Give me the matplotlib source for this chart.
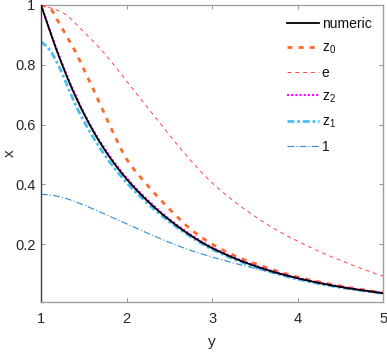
import numpy as np
import matplotlib
matplotlib.use("Agg")
import matplotlib.pyplot as plt

plt.rcParams['font.family'] = ['Liberation Sans', 'DejaVu Sans']
plt.rcParams['mathtext.fontset'] = 'custom'
plt.rcParams['mathtext.rm'] = 'Liberation Sans'
plt.rcParams['mathtext.it'] = 'Liberation Sans'

# data
y_num = [1, 1.2, 1.4, 1.6, 1.8, 2, 2.25, 2.5, 2.75, 3, 3.5, 4, 4.5, 5]
numeric = [1, 0.835, 0.696, 0.583, 0.492, 0.418, 0.343, 0.281, 0.229, 0.187, 0.127, 0.086, 0.057, 0.036]
z2 = [1, 0.839, 0.700, 0.587, 0.496, 0.422, 0.347, 0.284, 0.232, 0.189, 0.129, 0.087, 0.058, 0.036]

y_z1 = [1, 1.1, 1.2, 1.3, 1.4, 1.6, 1.8, 2, 2.25, 2.5, 2.75, 3, 3.5, 4, 4.5, 5]
z1 = [0.878, 0.85, 0.80, 0.735, 0.668, 0.562, 0.476, 0.406, 0.335, 0.275, 0.225, 0.183, 0.124, 0.083, 0.055, 0.035]

y_z0 = [1, 1.1, 1.2, 1.3, 1.4, 1.5, 1.6, 1.8, 2, 2.25, 2.5, 2.75, 3, 3.25, 3.5, 4, 4.5, 5]
z0 = [1, 0.99, 0.945, 0.895, 0.845, 0.785, 0.725, 0.60, 0.485, 0.395, 0.318, 0.25, 0.2, 0.163, 0.135, 0.09, 0.06, 0.037]

y_e = [1, 1.25, 1.5, 1.75, 2, 2.25, 2.5, 2.75, 3, 3.25, 3.5, 3.75, 4, 4.25, 4.5, 4.75, 5]
e = [1, 0.975, 0.91, 0.835, 0.745, 0.655, 0.565, 0.48, 0.405, 0.345, 0.293, 0.248, 0.21, 0.176, 0.146, 0.118, 0.093]

y_one = [1, 1.125, 1.25, 1.375, 1.5, 1.75, 2, 2.25, 2.5, 2.75, 3, 3.25, 3.5, 3.75, 4, 4.5, 5]
one = [0.367, 0.364, 0.356, 0.345, 0.331, 0.300, 0.268, 0.236, 0.206, 0.179, 0.157, 0.137, 0.119, 0.102, 0.086, 0.056, 0.034]

labels = ['numeric', '$\\mathregular{z_0}$', 'e', '$\\mathregular{z_2}$', '$\\mathregular{z_1}$', '1']
xticks = [1, 2, 3, 4, 5]
yticks = [0.2, 0.4, 0.6, 0.8, 1]
yticklabels = ['0.2', '0.4', '0.6', '0.8', '1']

def smooth(xs, ys, n=300):
    xs = np.asarray(xs, float); ys = np.asarray(ys, float)
    xx = np.linspace(xs[0], xs[-1], n)
    h = np.diff(xs); d = np.diff(ys) / h
    m = np.zeros_like(ys)
    for k in range(1, len(xs) - 1):
        if d[k-1] * d[k] > 0:
            w1 = 2*h[k] + h[k-1]; w2 = h[k] + 2*h[k-1]
            m[k] = (w1 + w2) / (w1/d[k-1] + w2/d[k])
    m[0] = d[0]; m[-1] = d[-1]
    idx = np.clip(np.searchsorted(xs, xx) - 1, 0, len(xs) - 2)
    t = (xx - xs[idx]) / h[idx]
    h00 = 2*t**3 - 3*t**2 + 1; h10 = t**3 - 2*t**2 + t
    h01 = -2*t**3 + 3*t**2; h11 = t**3 - t**2
    yy = h00*ys[idx] + h10*h[idx]*m[idx] + h01*ys[idx+1] + h11*h[idx]*m[idx+1]
    return xx, yy

fig = plt.figure(figsize=(3.87, 3.54), dpi=100)
ax = fig.add_axes([0.106, 0.147, 0.884, 0.839])

ax.plot(*smooth(y_num, numeric), color='black', lw=1.3, label=labels[0], zorder=4)
ax.plot(*smooth(y_z0, z0), color='#ff6a2a', lw=2.0, ls=(0, (1.8, 2.2)), label=labels[1], zorder=3)
ax.plot(*smooth(y_e, e), color='#ff4444', lw=0.7, ls=(0, (4, 4)), label=labels[2], zorder=3)
ax.plot(*smooth(y_num, z2), color='#ff00ff', lw=1.5, ls=(0, (1, 1)), label=labels[3], zorder=3)
ax.plot(*smooth(y_z1, z1), color='#4dbeee', lw=2.0, ls=(0, (2.5, 1, 1, 1)), label=labels[4], zorder=2)
ax.plot(*smooth(y_one, one), color='#2f8ad6', lw=0.8, ls=(0, (6, 2, 1, 2)), label=labels[5], zorder=2)

ax.set_xlim(1, 5)
ax.set_ylim(0.0067, 1)
ax.set_xticks(xticks)
ax.set_xticklabels([str(t) for t in xticks])
ax.set_yticks(yticks)
ax.set_yticklabels(yticklabels)
ax.tick_params(direction='in', top=True, right=True, length=3, width=0.6,
               colors='#7f7f7f', labelcolor='#262626', labelsize=10.5)
ax.tick_params(axis='x', pad=7.5)
ax.tick_params(axis='y', pad=4)
for s in ['top', 'right', 'bottom']:
    ax.spines[s].set_color('#a0a0a0')
ax.spines['left'].set_color('#404040')
for s in ax.spines.values():
    s.set_linewidth(1.0)

ax.set_xlabel('y', fontsize=11, color='#262626', labelpad=6.5)
ax.set_ylabel('x', fontsize=11, color='#262626', labelpad=-1.5)

leg = ax.legend(loc='upper right', frameon=False, fontsize=10, handlelength=2.3,
                handletextpad=0.2, labelspacing=0.70, borderaxespad=0.45)
for t in leg.get_texts():
    t.set_color('#111111')

fig.savefig('out.png', dpi=100)
